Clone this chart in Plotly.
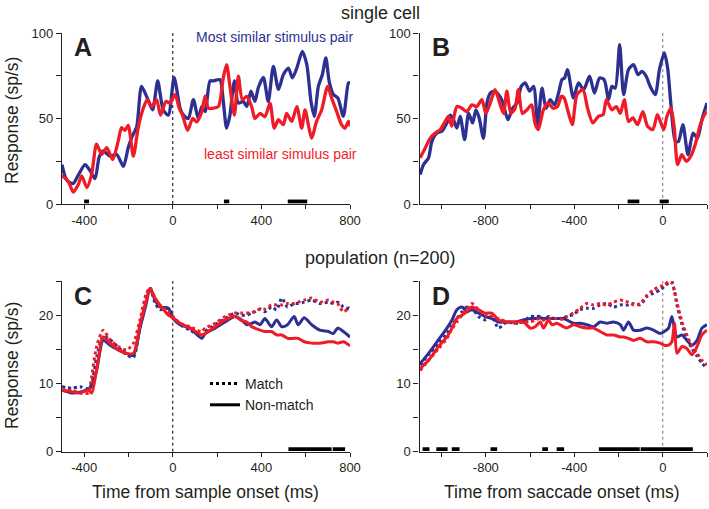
import plotly.graph_objects as go

# ---------------- DATA ----------------
# Panel A: single cell, aligned to sample onset
a_blue_t = [-500,-486,-472,-449,-426,-396,-374,-351,-332,-314,-283,-253,-223,-201,-185,-163,-141,-115,-91,-68,-43,-20,6,33,48,70,93,115,131,146,168,183,213,228,243,258,278,296,318,334,353,371,386,409,431,454,477,499,522,540,560,585,605,624,639,657,675,691,706,725,745,770,793,800]
a_blue_v = [23,16,13,12,17,23,19.6,14.8,27.5,31,28,29,22,33,39,45,68.8,62,55,72,55,52,74,56,52,50,61,50,57,54,72,72,72.7,60,44.4,52,72,59,60,57,66,60,68,74,60,80.5,67,75.6,79.5,73.7,79.5,89.3,81.5,60,51.3,68.8,75.6,85.4,71.7,64,62,51.3,70.8,71]
a_red_t = [-500,-472,-449,-426,-411,-388,-366,-344,-321,-298,-271,-246,-231,-216,-201,-178,-156,-133,-115,-95,-73,-55,-31,-13,10,29,44,67,90,108,131,146,161,183,206,228,243,258,278,296,314,334,356,371,394,416,439,458,477,499,514,537,560,582,597,615,627,649,672,699,717,740,762,777,793,800]
a_red_v = [16.6,13.3,7,11.5,16.4,9.6,17.5,35,29,33,26,37,44.7,43,46,28,44.7,56,61,57,61,52,60,59,64,56,52,43,50,48,54,63,56,56,57,73.7,81.5,68.8,52,74.7,61,63,57,50,53,51,59,44.4,49.3,46.4,53,48.3,57,44.4,55,44.4,38.4,48.3,55,68.8,62,54,46.4,44.4,48.3,45.5]

# Panel B: single cell, aligned to saccade onset
b_blue_t = [-1097,-1082,-1059,-1044,-1021,-999,-976,-961,-946,-931,-916,-896,-878,-860,-845,-830,-811,-795,-780,-761,-743,-725,-700,-679,-659,-640,-622,-602,-584,-566,-546,-528,-509,-489,-471,-456,-444,-431,-404,-381,-358,-331,-309,-286,-265,-245,-230,-215,-195,-177,-155,-132,-112,-94,-75,-57,-34,-15,7,22,37,57,71,91,114,137,157,177,200]
b_blue_v = [17.2,23,27,36.6,41.5,42.5,47.4,52,49.3,44.4,51.3,37.6,53,47.4,55,50.3,38.4,59,64.9,66,64,60,49.3,56,59,68.8,70.8,66,68.8,46.4,67.8,56,61,58,65,72.7,73.7,78.6,62,70.8,66.8,74.7,64.9,73.7,72.7,61,68.8,67.8,93.2,64,78.6,81.5,75.6,77.6,74.7,68.8,64,78.6,88.3,79.5,58,36.6,36.6,46.4,28.8,41.5,38.4,49.3,59]
b_red_t = [-1097,-1074,-1052,-1029,-1006,-984,-969,-954,-931,-908,-886,-863,-841,-818,-800,-780,-758,-735,-720,-705,-687,-668,-653,-635,-615,-593,-578,-563,-540,-518,-496,-476,-458,-446,-428,-409,-388,-361,-340,-316,-291,-270,-255,-230,-210,-192,-174,-155,-135,-114,-90,-69,-45,-24,4,19,37,52,67,86,106,127,147,170,192,200]
b_red_v = [27,32.8,38.4,41.5,43.5,48.3,51.3,45.5,57,56,54,58,57,61,53,59,66.8,58,53,66,53,56,66.8,53,55,58,47.4,43.5,55,59,56,57,63,62,54,46.4,64,66.8,56,47.4,51.3,52.2,61,55,57,53,61,48.3,50.3,46.4,54,45.5,43.5,52.2,43.5,51.3,56,44.4,23,28.8,25,28,35,46.4,53,54]

# Panel C: population, aligned to sample onset
c_t = [-500,-456,-419,-381,-366,-343,-314,-283,-246,-208,-178,-148,-121,-103,-80,-58,-20,2,33,78,131,146,191,236,281,311,334,356,371,394,416,446,469,492,518,548,566,593,627,664,702,725,744,770,800]
c_nm_blue = [9.0,8.6,8.7,9.2,9.6,12.0,16.3,15.6,14.9,14.4,14.1,18.1,21.5,23.9,22.2,21.2,21.0,19.5,18.6,18.1,16.6,17.3,18.1,19.0,19.8,19.3,18.6,18.8,19.0,18.6,19.5,18.3,19.3,18.3,18.6,19.8,18.6,19.6,18.6,17.8,17.6,17.3,18.1,17.6,16.8]
c_nm_red = [9.0,8.8,8.6,9.0,8.6,12.2,16.8,15.9,14.9,14.4,14.4,18.6,22.0,23.9,22.5,21.5,20.0,19.6,18.8,18.1,17.1,17.3,18.3,19.3,19.8,19.2,19.0,18.3,18.1,17.8,17.6,17.6,17.1,17.1,16.6,16.6,16.6,16.1,15.9,15.9,16.1,16.1,15.9,16.1,15.5]
c_m_blue = [9.5,9.3,9.5,9.2,10.0,13.9,16.9,16.4,15.3,14.2,13.8,18.3,22.7,24.0,21.8,20.8,21.0,19.6,18.6,17.8,16.9,17.6,18.6,19.5,20.3,20.0,20.0,20.3,20.5,20.9,20.5,21.2,20.8,22.5,21.2,21.7,21.7,21.9,22.2,21.7,21.9,21.7,21.9,21.2,20.9]
c_m_red = [9.0,9.0,8.6,8.6,11.0,15.5,17.8,16.4,15.4,14.9,15.9,19.3,23.0,24.0,22.5,21.3,20.5,19.8,18.8,18.3,17.6,18.1,18.8,19.8,20.3,20.3,20.3,20.4,20.5,20.9,20.9,21.5,21.5,21.5,21.7,21.7,21.9,22.2,22.5,21.9,22.2,21.9,21.7,20.5,21.2]

# Panel D: population, aligned to saccade onset
d_t = [-1097,-1059,-1014,-976,-953,-931,-908,-886,-863,-833,-803,-773,-743,-705,-667,-630,-599,-577,-554,-539,-517,-501,-479,-449,-434,-404,-374,-343,-313,-283,-253,-223,-192,-177,-155,-132,-102,-72,-42,-12,7,26,41,53,64,87,109,132,155,177,200]
d_nm_blue = [12.9,14.4,16.4,18.1,19.3,20.8,21.2,20.5,20.8,20.3,19.8,19.5,19.0,19.0,19.0,19.3,19.5,19.5,19.6,19.5,19.5,19.5,19.5,19.5,19.3,18.8,18.8,18.6,18.3,19.0,18.8,19.0,18.6,17.8,19.0,17.8,17.8,18.1,17.8,17.3,17.6,18.1,19.8,18.0,16.8,17.1,16.3,15.6,16.3,18.1,18.6]
d_nm_red = [12.2,13.4,15.4,16.8,18.1,19.5,20.0,20.5,21.2,20.8,20.3,20.3,19.3,19.0,19.0,19.0,18.1,18.3,19.0,18.1,19.3,18.6,18.8,18.3,18.1,18.6,18.3,18.1,18.1,17.6,17.1,17.1,16.8,16.8,16.6,16.3,16.6,16.1,16.1,15.9,15.6,15.6,16.1,18.8,14.4,15.4,15.1,14.2,15.4,17.1,17.8]
d_m_blue = [12.7,14.2,15.9,17.3,18.5,19.5,20.5,21.2,21.0,19.8,19.3,19.8,18.1,19.0,18.8,19.0,19.8,19.8,19.8,19.3,19.8,19.6,19.5,19.6,19.8,20.1,20.8,21.0,21.0,21.5,21.7,21.2,21.5,21.5,21.5,21.7,21.5,22.7,23.2,23.7,24.2,24.7,24.9,23.5,21.5,18.6,16.6,15.1,14.0,13.0,12.2]
d_m_red = [11.9,13.4,15.1,16.6,18.0,19.0,20.0,20.9,21.7,20.8,20.0,19.8,19.5,19.0,18.8,19.0,19.0,19.3,19.5,19.3,19.5,19.5,19.5,19.4,19.8,20.3,21.0,21.7,21.5,21.7,21.5,21.9,22.2,22.1,21.9,21.5,21.7,22.9,23.7,24.2,24.4,24.9,24.7,23.5,21.9,19.0,17.1,15.4,14.4,13.4,12.7]

# Significance epochs (ms)
sig_a = [(-400, -378), (231, 255), (519, 607)]
sig_b = [(-159, -106), (-14, 27)]
sig_c = [(522, 717), (722, 778)]
sig_d = [(-1086, -1055), (-1024, -973), (-954, -919), (-779, -749), (-545, -519), (-480, -446), (-289, -104), (-100, 136)]

ticks_sample = [-400, -200, 0, 200, 400, 600, 800]
labels_sample = ["-400", "", "0", "", "400", "", "800"]
ticks_sacc = [-1000, -800, -600, -400, -200, 0, 200]
labels_sacc = ["", "-800", "", "-400", "", "0", ""]
ticks_cell = [0, 25, 50, 75, 100]
labels_cell = ["0", "", "50", "", "100"]
ticks_pop = [0, 5, 10, 15, 20, 25]
labels_pop = ["0", "", "10", "", "20", ""]

# ---------------- STYLE ----------------
W, H = 709, 509
BLUE = "#2d3091"
RED = "#ef1c27"
INK = "#231f20"
FONT = "Liberation Sans, Arial, Helvetica, sans-serif"

def px(x):
    return x / W

def py(y):
    return 1 - y / H

fig = go.Figure()

def add_line(t, v, color, ax, dash="solid", width=3):
    fig.add_trace(go.Scatter(x=t, y=v, mode="lines", xaxis="x" + ax, yaxis="y" + ax,
                             line=dict(color=color, width=width, dash=dash, shape="spline", smoothing=0.7),
                             showlegend=False, hoverinfo="skip"))

add_line(a_blue_t, a_blue_v, BLUE, "", width=3.3)
add_line(a_red_t, a_red_v, RED, "", width=3.3)
add_line(b_blue_t, b_blue_v, BLUE, "2", width=3.3)
add_line(b_red_t, b_red_v, RED, "2", width=3.3)

add_line(c_t, c_nm_blue, BLUE, "3")
add_line(c_t, c_m_blue, BLUE, "3", dash="dot")
add_line(c_t, c_nm_red, RED, "3")
add_line(c_t, c_m_red, RED, "3", dash="dot")

add_line(d_t, d_nm_blue, BLUE, "4")
add_line(d_t, d_m_blue, BLUE, "4", dash="dot")
add_line(d_t, d_nm_red, RED, "4")
add_line(d_t, d_m_red, RED, "4", dash="dot")

# legend entries (black)
fig.add_trace(go.Scatter(x=[None], y=[None], mode="lines", xaxis="x3", yaxis="y3", name="Match",
                         line=dict(color="black", width=3, dash="dot")))
fig.add_trace(go.Scatter(x=[None], y=[None], mode="lines", xaxis="x3", yaxis="y3", name="Non-match",
                         line=dict(color="black", width=3)))

shapes = []
for ax, sig in [("", sig_a), ("2", sig_b), ("3", sig_c), ("4", sig_d)]:
    for s, e in sig:
        shapes.append(dict(type="rect", xref="x" + ax, yref="y" + ax + " domain",
                           x0=s, x1=e, y0=0.004, y1=0.026, fillcolor="black", line=dict(width=0)))
for ax, col in [("", "black"), ("2", "#777777"), ("3", "black"), ("4", "#777777")]:
    shapes.append(dict(type="line", xref="x" + ax, yref="y" + ax + " domain", x0=0, x1=0, y0=0, y1=1,
                       line=dict(color=col, width=1, dash="dot"), layer="below"))

xA = [px(62), px(350)]
xB = [px(419.5), px(707)]
yTop = [py(204), py(33)]
yBot = [py(451.7), py(281)]

def xaxis(dom, rng, tv, tt, anchor):
    return dict(domain=dom, range=rng, tickvals=tv, ticktext=tt, showline=True, linecolor=INK, linewidth=1.3,
                ticks="outside", ticklen=4, tickwidth=1.2, tickcolor=INK, showgrid=False, zeroline=False,
                automargin=False,
                tickfont=dict(size=13, color=INK, family=FONT), anchor=anchor, fixedrange=True)

def yaxis(dom, rng, tv, tt, anchor):
    return dict(domain=dom, range=rng, tickvals=tv, ticktext=tt, showline=True, linecolor=INK, linewidth=1.3,
                ticks="outside", ticklen=5, tickwidth=1.2, tickcolor=INK, showgrid=False, zeroline=False,
                automargin=False,
                tickfont=dict(size=13, color=INK, family=FONT), anchor=anchor, fixedrange=True)

ann = []
def text(x, y, s, size, color=INK, bold=False, angle=0):
    ann.append(dict(x=px(x), y=py(y), xref="paper", yref="paper", text=("<b>%s</b>" % s) if bold else s,
                    showarrow=False, font=dict(size=size, color=color, family=FONT), textangle=angle,
                    xanchor="center", yanchor="middle"))

text(380, 13, "single cell", 18)
text(380, 258, "population (n=200)", 18)
text(83, 47, "A", 25, bold=True)
text(440.5, 47, "B", 25, bold=True)
text(82.5, 296, "C", 25, bold=True)
text(440.5, 296, "D", 25, bold=True)
text(274, 37, "Most similar stimulus pair", 14, color=BLUE)
text(280, 154, "least similar simulus pair", 14, color=RED)
text(12, 121, "Response (sp/s)", 17.5, angle=-90)
text(12, 366, "Response (sp/s)", 17.5, angle=-90)
text(205, 492, "Time from sample onset (ms)", 17.5)
text(562, 492, "Time from saccade onset (ms)", 17.5)

fig.update_layout(
    template="none",
    width=W, height=H, margin=dict(l=0, r=0, t=0, b=0, pad=0, autoexpand=False),
    paper_bgcolor="white", plot_bgcolor="white",
    font=dict(family=FONT, color=INK),
    xaxis=xaxis(xA, [-500, 800], ticks_sample, labels_sample, "y"),
    yaxis=yaxis(yTop, [0, 100], ticks_cell, labels_cell, "x"),
    xaxis2=xaxis(xB, [-1100, 200], ticks_sacc, labels_sacc, "y2"),
    yaxis2=yaxis(yTop, [0, 100], ticks_cell, labels_cell, "x2"),
    xaxis3=xaxis(xA, [-500, 800], ticks_sample, labels_sample, "y3"),
    yaxis3=yaxis(yBot, [0, 25], ticks_pop, labels_pop, "x3"),
    xaxis4=xaxis(xB, [-1100, 200], ticks_sacc, labels_sacc, "y4"),
    yaxis4=yaxis(yBot, [0, 25], ticks_pop, labels_pop, "x4"),
    shapes=shapes, annotations=ann,
    showlegend=True,
    legend=dict(x=px(205), y=py(368), xanchor="left", yanchor="top", bgcolor="rgba(0,0,0,0)",
                font=dict(size=14, color=INK, family=FONT), itemwidth=30, tracegroupgap=0),
)

fig.write_html("out.html", config={"displayModeBar": False},
               post_script="document.body.style.margin='0';document.body.style.overflow='hidden';")
